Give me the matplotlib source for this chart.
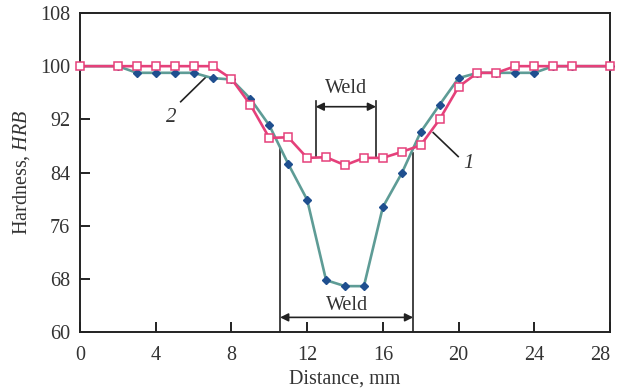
import matplotlib
matplotlib.use("Agg")
import matplotlib.pyplot as plt

plt.rcParams['font.family'] = ['Liberation Serif', 'DejaVu Serif']
plt.rcParams['mathtext.fontset'] = 'custom'
plt.rcParams['mathtext.rm'] = 'Liberation Serif'
plt.rcParams['mathtext.it'] = 'Liberation Serif:italic'

# distance along the sample, mm
distance = [0, 2, 3, 4, 5, 6, 7, 8, 9, 10, 11, 12, 13, 14, 15, 16, 17,
            18, 19, 20, 21, 22, 23, 24, 25, 26, 28]

# curve 1 (squares)
hardness_1 = [100, 100, 100, 100, 100, 100, 100, 98.1, 94.2, 89.2, 89.3,
              86.2, 86.3, 85.1, 86.2, 86.2, 87.1, 88.1, 92.0, 96.9, 99.0,
              99.0, 100, 100, 100, 100, 100]

# curve 2 (diamonds)
hardness_2 = [100, 100, 99.0, 99.0, 99.0, 99.0, 98.2, 98.0, 95.1, 91.1,
              85.3, 79.9, 67.8, 66.9, 66.9, 78.8, 83.9, 90.1, 94.2, 98.2,
              99.0, 99.0, 99.0, 99.0, 100, 100, 100]

x_ticks = [0, 4, 8, 12, 16, 20, 24, 28]
y_ticks = [60, 68, 76, 84, 92, 100, 108]

fig = plt.figure(figsize=(6.2, 3.89), dpi=100)
ax = fig.add_axes([80 / 620, 57 / 389, 530 / 620, 319 / 389])

ax.plot(distance, hardness_2, color='#5e9c96', lw=1.9, marker='D',
        markersize=4.3, markerfacecolor='#1f4f8f', markeredgecolor='#1f4f8f',
        zorder=3, clip_on=False)
ax.plot(distance, hardness_1, color='#e5407a', lw=1.9, marker='s',
        markersize=5.5, markerfacecolor='white', markeredgecolor='#e5407a',
        markeredgewidth=1.1, zorder=4, clip_on=False)

ax.set_xlim(0, 28)
ax.set_ylim(60, 108)
ax.set_xticks(x_ticks)
ax.set_yticks(y_ticks)

# weld zone, upper
for xv in (12.45, 15.64):
    ax.plot([xv, xv], [86.4, 94.8], color='#222222', lw=1.2, zorder=2)
ax.annotate('', xy=(12.45, 93.9), xytext=(15.64, 93.9),
            arrowprops=dict(arrowstyle='<|-|>', color='#222222', lw=1.2,
                            mutation_scale=12, shrinkA=0, shrinkB=0))
ax.text(14.08, 96.7, 'Weld', ha='center', va='center', fontsize=14.5,
        color='#333333')

# weld zone, lower
ax.plot([10.57, 10.57], [60, 87.7], color='#222222', lw=1.2, zorder=2)
ax.plot([17.6, 17.6], [60, 86.9], color='#222222', lw=1.2, zorder=2)
ax.annotate('', xy=(10.57, 62.2), xytext=(17.6, 62.2),
            arrowprops=dict(arrowstyle='<|-|>', color='#222222', lw=1.2,
                            mutation_scale=12, shrinkA=0, shrinkB=0))
ax.text(14.1, 64.05, 'Weld', ha='center', va='center', fontsize=14.5,
        color='#333333')

# curve labels
ax.plot([5.32, 6.64], [94.65, 98.33], color='#222222', lw=1.2)
ax.text(4.84, 92.3, '2', ha='center', va='center', fontsize=15,
        style='italic', color='#333333')
ax.plot([18.66, 19.98], [90.0, 86.4], color='#222222', lw=1.2)
ax.text(20.5, 85.4, '1', ha='center', va='center', fontsize=15,
        style='italic', color='#333333')

for side in ax.spines.values():
    side.set_linewidth(1.4)
    side.set_color('#222222')
ax.tick_params(direction='in', length=7, width=1.4, colors='#222222',
               labelsize=14.5, labelcolor='#333333', pad=7,
               top=False, right=False)
ax.tick_params(axis='x', pad=10)

ax.set_xlabel('Distance, mm', fontsize=14.5, color='#333333', labelpad=3)
ax.set_ylabel('Hardness, $HRB$', fontsize=14.5, color='#333333', labelpad=6)

# last x label sits flush with the right spine
ax.get_xticklabels()[-1].set_horizontalalignment('right')

fig.savefig('out.png', dpi=100)
